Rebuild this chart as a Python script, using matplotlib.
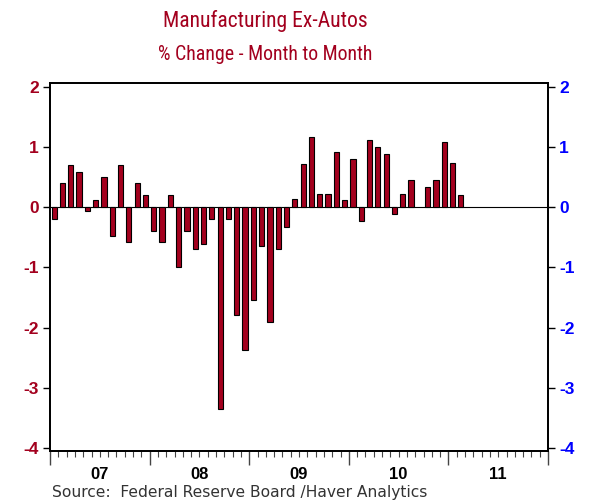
import numpy as np
import matplotlib
matplotlib.use("Agg")
import matplotlib.pyplot as plt
from matplotlib.ticker import MultipleLocator, FixedLocator
from matplotlib.font_manager import fontManager

# ---- data ----
years = ["07", "08", "09", "10", "11"]
values_2007 = [-0.19, 0.40, 0.70, 0.59, -0.07, 0.12, 0.50, -0.48, 0.70, -0.58, 0.40, 0.20]
values_2008 = [-0.39, -0.58, 0.20, -1.00, -0.39, -0.70, -0.61, -0.19, -3.36, -0.19, -1.79, -2.37]
values_2009 = [-1.54, -0.65, -1.91, -0.69, -0.33, 0.13, 0.71, 1.17, 0.22, 0.22, 0.91, 0.12]
values_2010 = [0.79, -0.23, 1.12, 1.00, 0.88, -0.11, 0.22, 0.45, np.nan, 0.33, 0.45, 1.08]
values_2011 = [0.74, 0.20]
y_ticks = [2, 1, 0, -1, -2, -3, -4]

values = np.array(values_2007 + values_2008 + values_2009 + values_2010 + values_2011, dtype=float)
months = np.arange(len(values)) + 0.5

RED = "#A3001E"
BLUE = "#0000FF"

names = {f.name for f in fontManager.ttflist}
def pick(cands, default="DejaVu Sans"):
    for c in cands:
        if c in names:
            return c
    return default

title_font = pick(["Liberation Sans Narrow", "Roboto Condensed", "Archivo Narrow", "Arimo"])
body_font = pick(["Liberation Sans", "Arimo"])
src_font = pick(["Tahoma", "DejaVu Sans"])

fig = plt.figure(figsize=(5.9, 5.01), dpi=100)
ax = fig.add_axes([50/590, 1-451/501, (548-50)/590, (451-83)/501])

ax.bar(months + 0.12, values, width=0.62, bottom=0, color="#BBBBBB", edgecolor="none", zorder=2.5)
ax.bar(months, values, width=0.62, color=RED, edgecolor="black", linewidth=0.8, zorder=3)
ax.axhline(0, color="black", linewidth=0.8, zorder=2)

ax.set_xlim(0, 60)
ax.set_ylim(-4.05, 2.06)
ax.set_yticks(y_ticks)
ax.set_yticklabels([str(t) for t in y_ticks], fontweight="bold", color=RED,
                   fontsize=12.5, fontfamily=body_font)

ax2 = ax.twinx()
ax2.set_ylim(ax.get_ylim())
ax2.set_yticks(y_ticks)
ax2.set_yticklabels([str(t) for t in y_ticks], fontweight="bold", color=BLUE,
                    fontsize=12.5, fontfamily=body_font)
ax2.tick_params(axis="y", length=5, width=1, direction="out", pad=3)
ax.tick_params(axis="y", length=5, width=1, direction="out", pad=3)

ax.xaxis.set_major_locator(FixedLocator(np.arange(0, 61, 12)))
ax.xaxis.set_minor_locator(MultipleLocator(1))
ax.tick_params(axis="x", which="major", length=10, width=1, labelbottom=False, color="#444444")
ax.tick_params(axis="x", which="minor", length=4, width=0.8, color="#444444")

for i, yl in enumerate(years):
    ax.text(6 + 12*i, -0.043, yl, transform=ax.get_xaxis_transform(), ha="center", va="top",
            fontsize=12, fontweight="bold", fontfamily=body_font)

for a in (ax, ax2):
    for s in a.spines.values():
        s.set_linewidth(1.3)

fig.text(265/590, 1-21/501, "Manufacturing Ex-Autos", ha="center", va="center",
         color=RED, fontsize=15.6, fontweight="normal", fontfamily=title_font)
fig.text(265/590, 1-54/501, "% Change - Month to Month", ha="center", va="center",
         color=RED, fontsize=14.3, fontweight="normal", fontfamily=title_font)
fig.text(52/590, 1-492/501, "Source:  Federal Reserve Board /Haver Analytics", ha="left",
         va="center", color="#333333", fontsize=11.2, fontfamily=src_font)

fig.savefig("out.png", dpi=100)
